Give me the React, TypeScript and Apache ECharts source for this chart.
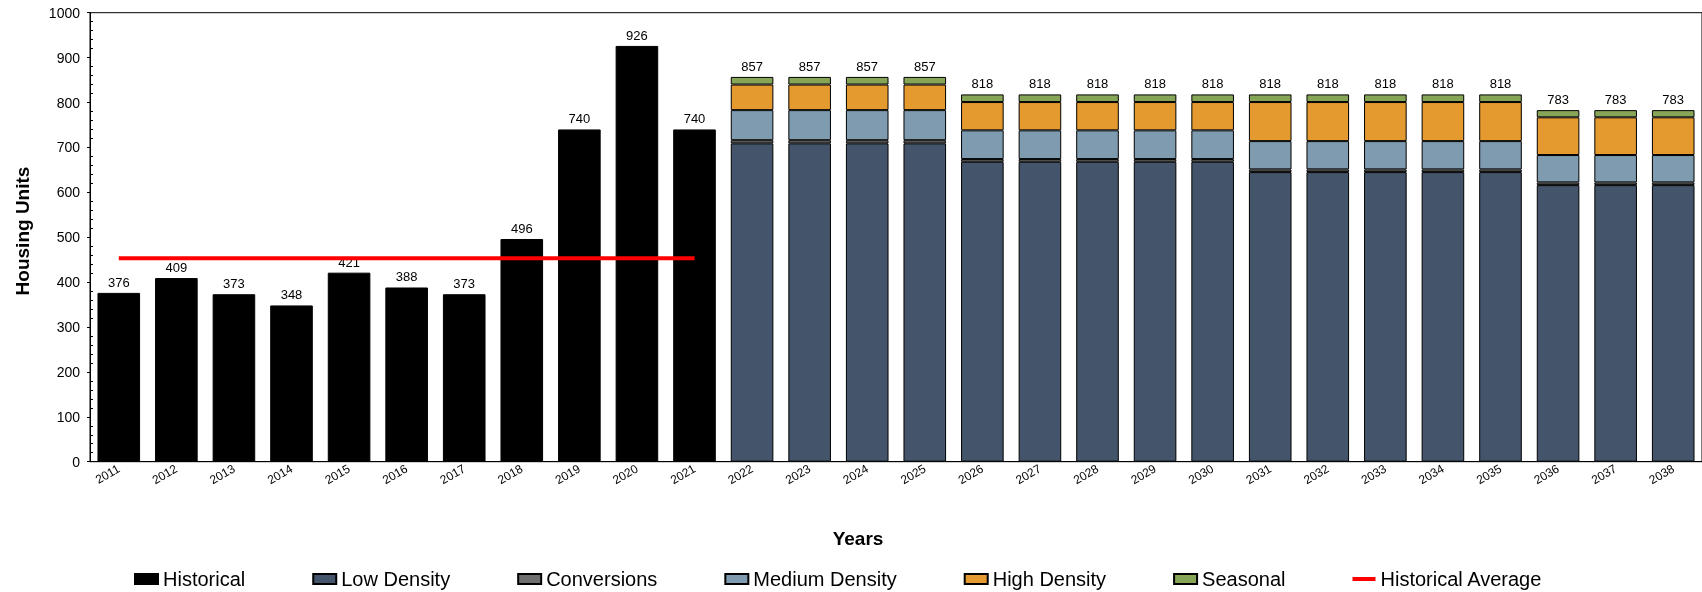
import React, { useEffect, useRef } from "react";
import * as echarts from "echarts";

// Categories
const years = [
  "2011", "2012", "2013", "2014", "2015", "2016", "2017", "2018", "2019", "2020", "2021",
  "2022", "2023", "2024", "2025", "2026", "2027", "2028", "2029", "2030",
  "2031", "2032", "2033", "2034", "2035", "2036", "2037", "2038",
];

// Historical completions, 2011-2021
const historical = [376, 409, 373, 348, 421, 388, 373, 496, 740, 926, 740];

// Projected components, 2022-2038
const lowDensity = [709, 709, 709, 709, 668, 668, 668, 668, 668, 645, 645, 645, 645, 645, 616, 616, 616];
const conversions = [7, 7, 7, 7, 6, 6, 6, 6, 6, 6, 6, 6, 6, 6, 6, 6, 6];
const mediumDensity = [67, 67, 67, 67, 64, 64, 64, 64, 64, 63, 63, 63, 63, 63, 61, 61, 61];
const highDensity = [57, 57, 57, 57, 63, 63, 63, 63, 63, 87, 87, 87, 87, 87, 84, 84, 84];
const seasonal = [17, 17, 17, 17, 17, 17, 17, 17, 17, 17, 17, 17, 17, 17, 16, 16, 16];

// Average of the historical period
const historicalAverage = 453;

const FONT = "'Liberation Sans', Arial, Helvetica, sans-serif";

export default function App() {
  const ref = useRef<HTMLDivElement>(null);

  useEffect(() => {
    if (!ref.current) return;
    const chart = echarts.init(ref.current, undefined, { renderer: "svg" });

    const histCount = historical.length;
    const projCount = lowDensity.length;
    const blanksBefore = Array(histCount).fill("-");
    const blanksAfter = Array(projCount).fill("-");

    const projected = (arr: number[]) => [...blanksBefore, ...arr];
    const projectedTotal = (i: number) =>
      lowDensity[i] + conversions[i] + mediumDensity[i] + highDensity[i] + seasonal[i];

    const segStyle = (color: string) => ({
      color,
      borderColor: "#000",
      borderWidth: 1,
    });

    const stackSeries = (name: string, data: number[], color: string, extra: any = {}) => ({
      name,
      type: "bar",
      stack: "units",
      barCategoryGap: "26%",
      data: projected(data),
      itemStyle: segStyle(color),
      ...extra,
    });

    chart.setOption({
      animation: false,
      textStyle: { fontFamily: FONT },
      grid: {
        left: 90,
        right: 0,
        top: 12.7,
        bottom: 130.3,
        show: true,
        borderColor: "#000",
        borderWidth: 1,
        backgroundColor: "transparent",
      },
      legend: {
        left: 134,
        top: 569,
        padding: 0,
        itemWidth: 23,
        itemHeight: 10,
        itemGap: 67,
        icon: "rect",
        textStyle: { fontSize: 20, color: "#000", fontFamily: FONT },
        data: [
          "Historical",
          "Low Density",
          "Conversions",
          "Medium Density",
          "High Density",
          "Seasonal",
          { name: "Historical Average", icon: "path://M0,0 L23,0 L23,4 L0,4 Z" },
        ],
      },
      xAxis: {
        type: "category",
        data: years,
        axisLine: { lineStyle: { color: "#000", width: 1 } },
        axisTick: { length: 5, lineStyle: { color: "#000" } },
        axisLabel: {
          rotate: 30,
          interval: 0,
          fontSize: 12,
          color: "#000",
          margin: 6,
          fontFamily: FONT,
        },
      },
      yAxis: [
        {
          type: "value",
          min: 0,
          max: 1000,
          interval: 100,
          axisLine: { show: true, lineStyle: { color: "#000", width: 1 } },
          axisTick: { show: true, length: 3, lineStyle: { color: "#000" } },
          axisLabel: {
            fontSize: 14,
            color: "#000",
            margin: 10,
            fontFamily: FONT,
            formatter: (v: number) => String(v),
          },
          splitLine: { show: false },
        },
        {
          type: "value",
          min: 0,
          max: 1000,
          interval: 100,
          position: "left",
          axisLine: { show: false },
          axisTick: { show: false, inside: true },
          axisLabel: { show: false },
          minorTick: { show: true, splitNumber: 5, length: 3, lineStyle: { color: "#000" } },
          splitLine: { show: false },
          minorSplitLine: { show: false },
        },
      ],
      graphic: [
        {
          type: "text",
          x: 22,
          y: 231,
          rotation: Math.PI / 2,
          style: {
            text: "Housing Units",
            fontSize: 19,
            fontWeight: "bold",
            fontFamily: FONT,
            fill: "#000",
            align: "center",
            verticalAlign: "middle",
          },
        },
        {
          type: "text",
          x: 858,
          y: 538,
          style: {
            text: "Years",
            fontSize: 19,
            fontWeight: "bold",
            fontFamily: FONT,
            fill: "#000",
            align: "center",
            verticalAlign: "middle",
          },
        },
      ],
      series: [
        {
          name: "Historical",
          type: "bar",
          stack: "units",
          barCategoryGap: "26%",
          data: [...historical, ...blanksAfter],
          itemStyle: { color: "#000", borderColor: "#000", borderWidth: 1 },
          label: {
            show: true,
            position: "top",
            distance: 4,
            fontSize: 13,
            color: "#000",
            fontFamily: FONT,
          },
        },
        stackSeries("Low Density", lowDensity, "#44546a"),
        stackSeries("Conversions", conversions, "#6f6f6f"),
        stackSeries("Medium Density", mediumDensity, "#7f9bb0"),
        stackSeries("High Density", highDensity, "#e49a2f"),
        stackSeries("Seasonal", seasonal, "#86a556", {
          label: {
            show: true,
            position: "top",
            distance: 4,
            fontSize: 13,
            color: "#000",
            fontFamily: FONT,
            formatter: (p: any) => String(projectedTotal(p.dataIndex - histCount)),
          },
        }),
        {
          name: "Historical Average",
          type: "line",
          data: [...Array(histCount).fill(historicalAverage), ...blanksAfter],
          symbol: "none",
          lineStyle: { color: "#ff0000", width: 4 },
          itemStyle: { color: "#ff0000" },
          z: 5,
        },
      ],
    });

    return () => chart.dispose();
  }, []);

  return (
    <div
      ref={ref}
      style={{ position: "fixed", left: 0, top: 0, width: 1702, height: 592 }}
    />
  );
}
